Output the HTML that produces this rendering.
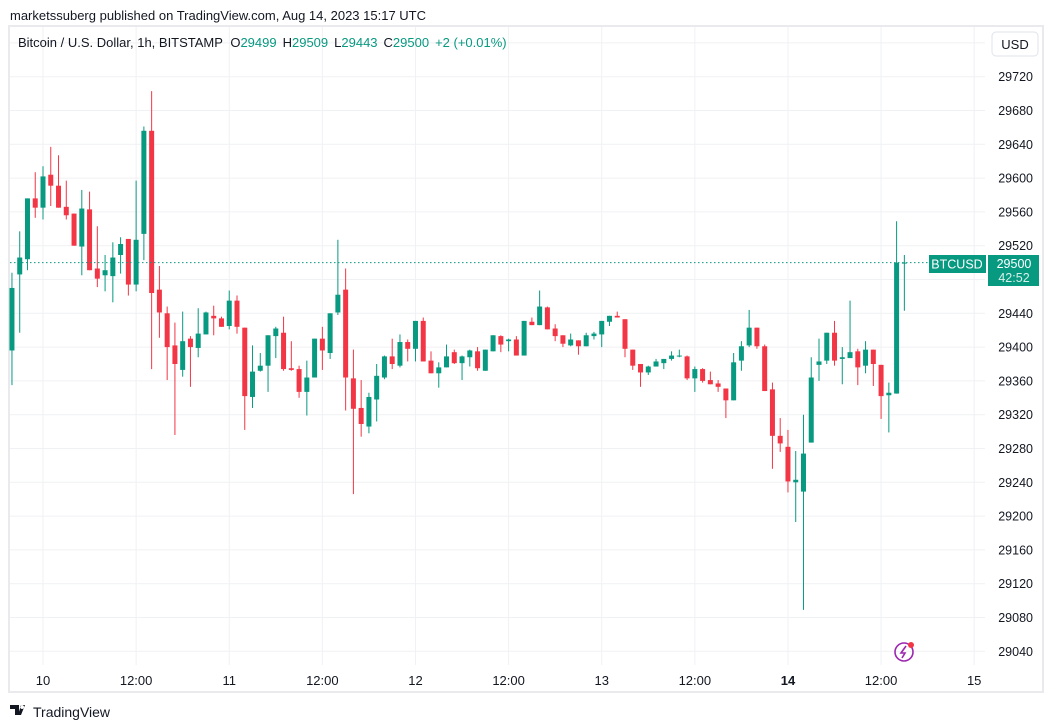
<!DOCTYPE html>
<html><head><meta charset="utf-8">
<style>
body{margin:0;background:#fff;font-family:"Liberation Sans",sans-serif;}
#wrap{position:relative;width:1054px;height:728px;overflow:hidden;}
</style></head>
<body>
<div id="wrap">
<svg id="svg" width="1054" height="728" xmlns="http://www.w3.org/2000/svg" font-family="Liberation Sans, sans-serif">
<text x="10" y="20" font-size="13" fill="#131722">marketssuberg published on TradingView.com, Aug 14, 2023 15:17 UTC</text>
<rect x="9" y="26" width="1034" height="666" fill="none" stroke="#e9e9ee" stroke-width="2"/>
<g id="grid"></g>
<g id="candles"></g>
<line x1="10" x2="985" y1="263.5" y2="263.5" stroke="#089981" stroke-dasharray="1.5,2.5" id="lastline"/>
<g id="axes"></g>
<text x="18" y="47" font-size="13" fill="#131722">Bitcoin / U.S. Dollar, 1h, BITSTAMP <tspan dx="4">O</tspan><tspan fill="#089981">29499</tspan><tspan dx="6">H</tspan><tspan fill="#089981">29509</tspan><tspan dx="6">L</tspan><tspan fill="#089981">29443</tspan><tspan dx="6">C</tspan><tspan fill="#089981">29500</tspan><tspan dx="6" fill="#089981">+2 (+0.01%)</tspan></text>
<rect x="992" y="32" width="46" height="24" rx="4" fill="#fff" stroke="#e0e3eb"/>
<text x="1015" y="49" font-size="13" fill="#131722" text-anchor="middle">USD</text>
<rect x="929" y="255" width="57" height="18" fill="#089981"/>
<text x="957" y="268.5" font-size="12.5" fill="#fff" text-anchor="middle">BTCUSD</text>
<rect x="988" y="255" width="51" height="31" fill="#089981"/>
<text x="1014" y="268" font-size="12.5" fill="#fff" text-anchor="middle">29500</text>
<text x="1014" y="282" font-size="12.5" fill="#d8f0ea" text-anchor="middle">42:52</text>
<g>
<circle cx="904" cy="652" r="9" fill="none" stroke="#9c27b0" stroke-width="1.6"/>
<path d="M906 646 L901 653 L905 653 L902 658" fill="none" stroke="#9c27b0" stroke-width="1.6"/>
<circle cx="911" cy="645" r="3" fill="#f23645"/>
</g>
<g>
<path d="M10 705 h9 v10 h-4 v-6 h-5z M21 705 h4 l-4 10 h-3z M22 705 a2 2 0 1 0 0.1 0" fill="#131722"/>
<text x="33" y="717" font-size="14" fill="#131722">TradingView</text>
</g>
</svg>
</div>
<script>
const hours=[-4,-3,-2,-1,0,1,2,3,4,5,6,7,8,9,10,11,12,13,14,15,16,17,18,19,20,21,22,23,24,25,26,27,28,29,30,31,32,33,34,35,36,37,38,39,40,41,42,43,44,45,46,47,48,49,50,51,52,53,54,55,56,57,58,59,60,61,62,63,64,65,66,67,68,69,70,71,72,73,74,75,76,77,78,79,80,81,82,83,84,85,86,87,88,89,90,91,92,93,94,95,96,97,98,99,100,101,102,103,104,105,106,107,108,109,110,111];
const opens=[29396,29486,29504,29576,29565,29604,29591,29566,29558,29519,29563,29493,29485,29484,29509,29528,29474,29534,29656,29468,29440,29402,29373,29410,29399,29415,29437,29434,29425,29455,29423,29341,29372,29378,29413,29417,29375,29374,29347,29364,29410,29393,29441,29468,29363,29328,29306,29338,29364,29389,29378,29406,29398,29431,29384,29369,29376,29394,29381,29388,29395,29372,29395,29413,29407,29409,29390,29430,29426,29447,29422,29414,29402,29408,29401,29413,29415,29430,29437,29433,29397,29380,29370,29377,29381,29386,29389,29389,29363,29374,29361,29357,29351,29337,29384,29402,29423,29401,29350,29295,29282,29240,29229,29287,29379,29384,29417,29386,29387,29395,29378,29397,29379,29343,29345,29499];
const highs=[29488,29537,29576,29607,29614,29637,29627,29597,29558,29586,29584,29543,29509,29524,29530,29528,29597,29661,29703,29496,29448,29429,29442,29413,29446,29442,29449,29436,29467,29461,29423,29402,29393,29414,29424,29436,29407,29378,29384,29410,29424,29440,29527,29493,29397,29361,29346,29380,29390,29410,29415,29409,29431,29435,29395,29382,29403,29397,29390,29397,29400,29397,29414,29414,29410,29413,29431,29435,29467,29448,29427,29414,29416,29408,29417,29418,29431,29437,29442,29433,29397,29380,29378,29386,29386,29395,29397,29390,29377,29375,29371,29361,29351,29393,29407,29444,29423,29403,29358,29316,29302,29277,29320,29388,29410,29417,29431,29400,29455,29398,29407,29397,29379,29358,29549,29509];
const lows=[29355,29417,29491,29553,29551,29567,29565,29551,29520,29485,29491,29471,29466,29453,29487,29461,29466,29503,29374,29411,29361,29296,29365,29353,29388,29415,29414,29424,29421,29416,29302,29328,29371,29347,29387,29372,29372,29340,29319,29364,29373,29386,29438,29325,29226,29294,29298,29312,29362,29374,29376,29383,29383,29383,29369,29352,29376,29380,29361,29377,29372,29372,29395,29394,29395,29390,29390,29426,29426,29421,29407,29400,29401,29391,29401,29409,29400,29425,29435,29388,29373,29353,29367,29377,29374,29384,29388,29361,29347,29358,29356,29347,29316,29337,29372,29400,29398,29348,29256,29276,29228,29193,29089,29287,29360,29380,29378,29356,29387,29355,29369,29354,29315,29299,29345,29443];
const closes=[29470,29506,29576,29565,29602,29591,29565,29556,29520,29564,29491,29481,29491,29506,29522,29474,29527,29656,29464,29441,29400,29380,29407,29400,29416,29441,29434,29424,29455,29424,29342,29371,29378,29414,29422,29374,29373,29347,29364,29410,29396,29440,29462,29364,29327,29309,29341,29366,29389,29380,29406,29398,29431,29383,29369,29376,29389,29381,29389,29396,29375,29397,29414,29403,29409,29390,29431,29426,29448,29421,29413,29404,29409,29401,29414,29416,29431,29437,29435,29398,29378,29370,29377,29383,29386,29390,29390,29363,29374,29360,29356,29353,29337,29382,29401,29423,29401,29348,29295,29286,29241,29243,29274,29364,29383,29417,29384,29388,29394,29376,29397,29380,29342,29346,29500,29500];
const priceTicks=[29040,29080,29120,29160,29200,29240,29280,29320,29360,29400,29440,29480,29520,29560,29600,29640,29680,29720,29760];
const timeTickHours=[0,12,24,36,48,60,72,84,96,108,120];
const timeTickLabels=["10","12:00","11","12:00","12","12:00","13","12:00","14","12:00","15"];

const NS="http://www.w3.org/2000/svg";
const yOf=p=>76.7+(29720-p)*0.845;
const xOf=h=>43+h*7.76;
function mk(tag,attrs,parent){const e=document.createElementNS(NS,tag);for(const k in attrs)e.setAttribute(k,attrs[k]);parent.appendChild(e);return e;}
const grid=document.getElementById('grid'),axes=document.getElementById('axes'),cg=document.getElementById('candles');
priceTicks.forEach((p,i)=>{
  const y=yOf(p);
  const l=mk('line',{x1:10,x2:985,y1:y,y2:y,stroke:'#f0f1f4','stroke-width':1},grid);
  
  
  if(p===29480||p===29760) return;
  const t=mk('text',{x:1033,y:y+4.5,'font-size':12.5,fill:'#131722','text-anchor':'end'},axes);
  t.textContent=p;
  
  
});
timeTickHours.forEach((h,i)=>{
  const x=xOf(h);
  const l=mk('line',{x1:x,x2:x,y1:27,y2:665,stroke:'#f0f1f4','stroke-width':1},grid);
  
  
  const t=mk('text',{x:x,y:685,'font-size':13,fill:'#131722','text-anchor':'middle','font-weight':timeTickLabels[i]==='14'?'bold':'normal'},axes);
  t.textContent=timeTickLabels[i];
  
  
});
hours.forEach((h,i)=>{
  const o=opens[i],c=closes[i],hi=highs[i],lo=lows[i];
  const col=c>=o?'#089981':'#f23645';
  const x=xOf(h);
  const g=mk('g',{},cg);
  
  
  mk('line',{x1:x,x2:x,y1:yOf(hi),y2:yOf(lo),stroke:col,'stroke-width':1},g);
  const top=yOf(Math.max(o,c)),bot=yOf(Math.min(o,c));
  mk('rect',{x:x-2.5,y:top,width:5,height:Math.max(1,bot-top),fill:col},g);
});
document.getElementById('lastline').setAttribute('y1',yOf(closes[closes.length-1]));
document.getElementById('lastline').setAttribute('y2',yOf(closes[closes.length-1]));
</script>
</body></html>
